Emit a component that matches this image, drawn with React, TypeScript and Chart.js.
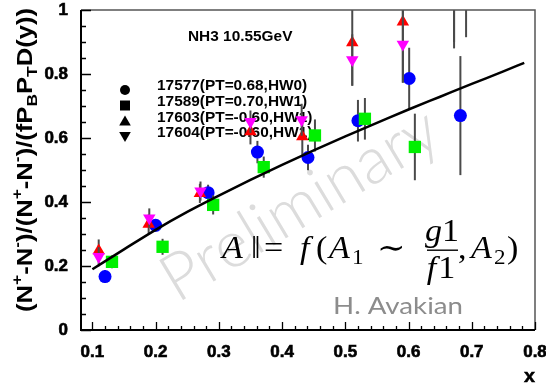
import React, { useEffect, useRef } from "react";
import { Chart, registerables } from "chart.js";

Chart.register(...registerables);

// Axis ranges and tick labels
const xRange = [0.082, 0.8];
const yRange = [0, 1];
const xTicks = [0.1, 0.2, 0.3, 0.4, 0.5, 0.6, 0.7, 0.8];
const xTickLabels = ["0.1", "0.2", "0.3", "0.4", "0.5", "0.6", "0.7", "0.8"];
const yTicks = [0, 0.2, 0.4, 0.6, 0.8, 1];
const yTickLabels = ["0", "0.2", "0.4", "0.6", "0.8", "1"];
const xMinorStep = 0.02;
const yMinorStep = 0.05;

// Run labels (legend order)
const runLabels = [
  "17577(PT=0.68,HW0)",
  "17589(PT=0.70,HW1)",
  "17603(PT=-0.60,HW1)",
  "17604(PT=-0.60,HW1)",
];

// Run 17577 (circles)
const run17577X = [0.12, 0.2, 0.283, 0.361, 0.441, 0.52, 0.601, 0.682];
const run17577Y = [0.167, 0.327, 0.429, 0.556, 0.539, 0.654, 0.786, 0.67];
const run17577Err = [0.02, 0.02, 0.025, 0.035, 0.04, 0.065, 0.096, 0.186];

// Run 17589 (squares)
const run17589X = [0.131, 0.211, 0.291, 0.371, 0.452, 0.531, 0.61, 0.691];
const run17589Y = [0.213, 0.26, 0.391, 0.509, 0.608, 0.66, 0.572, 1.15];
const run17589Err = [0.02, 0.025, 0.03, 0.033, 0.05, 0.065, 0.104, 0.235];

// Run 17603 (triangles up)
const run17603X = [0.11, 0.189, 0.27, 0.35, 0.432, 0.511, 0.591, 0.672];
const run17603Y = [0.248, 0.331, 0.427, 0.62, 0.604, 0.898, 0.963, 1.12];
const run17603Err = [0.035, 0.03, 0.03, 0.04, 0.06, 0.135, 0.19, 0.24];

// Run 17604 (triangles down)
const run17604X = [0.11, 0.19, 0.271, 0.35, 0.431, 0.511, 0.591, 0.672];
const run17604Y = [0.229, 0.35, 0.434, 0.651, 0.657, 0.844, 0.893, 1.08];
const run17604Err = [0.03, 0.03, 0.03, 0.035, 0.05, 0.08, 0.12, 0.18];

// Fitted curve
const fitX = [0.1, 0.15, 0.2, 0.25, 0.3, 0.35, 0.4, 0.45, 0.5, 0.55, 0.6, 0.65, 0.7, 0.75, 0.783];
const fitY = [0.19, 0.252, 0.313, 0.369, 0.42, 0.469, 0.516, 0.561, 0.605, 0.647, 0.689, 0.729, 0.769, 0.808, 0.835];

const SANS = "'Liberation Sans', Arial, Helvetica, sans-serif";
const SERIF = "'Liberation Serif', 'DejaVu Serif', serif";
const STRETCH = 1.1;

const zip = (xs: number[], ys: number[]) => xs.map((x, i) => ({ x, y: ys[i] }));

function stretchText(ctx: any, text: string, x: number, y: number, font: string, align = "left", sx = STRETCH, outline = 0) {
  ctx.save();
  ctx.font = font;
  ctx.textAlign = align;
  ctx.translate(x, y);
  ctx.scale(sx, 1);
  ctx.fillText(text, 0, 0);
  if (outline > 0) {
    ctx.strokeStyle = ctx.fillStyle;
    ctx.lineWidth = outline;
    ctx.strokeText(text, 0, 0);
  }
  ctx.restore();
}

function legendMarker(ctx: any, style: string, x: number, y: number) {
  ctx.beginPath();
  if (style === "circle") {
    ctx.arc(x, y, 5, 0, Math.PI * 2);
  } else if (style === "square") {
    ctx.rect(x - 5, y - 5, 10, 10);
  } else if (style === "up") {
    ctx.moveTo(x, y - 5.5);
    ctx.lineTo(x + 5.8, y + 4.5);
    ctx.lineTo(x - 5.8, y + 4.5);
    ctx.closePath();
  } else {
    ctx.moveTo(x, y + 5.5);
    ctx.lineTo(x + 5.8, y - 4.5);
    ctx.lineTo(x - 5.8, y - 4.5);
    ctx.closePath();
  }
  ctx.fill();
}

const legendStyles = ["circle", "square", "up", "down"];

// y-axis title with super/subscripts
const yTitleParts: [string, string][] = [
  ["(N", "n"], ["+", "sup"], ["-N", "n"], ["-", "sup"],
  [")/(N", "n"], ["+", "sup"], ["-N", "n"], ["-", "sup"],
  [")/(fP", "n"], ["B", "sub"], ["P", "n"], ["T", "sub"], ["D(y))", "n"],
];

function drawYTitle(ctx: any) {
  const size = 22;
  const small = 15;
  const fontN = `bold ${size}px ${SANS}`;
  const fontS = `bold ${small}px ${SANS}`;
  let total = 0;
  const widths = yTitleParts.map(([t, m]) => {
    ctx.font = m === "n" ? fontN : fontS;
    const w = ctx.measureText(t).width;
    total += w;
    return w;
  });
  const length = 304;
  const s = length / total;
  ctx.save();
  ctx.translate(32, 160);
  ctx.rotate(-Math.PI / 2);
  ctx.scale(s, 1);
  ctx.fillStyle = "#000";
  ctx.textAlign = "left";
  ctx.textBaseline = "alphabetic";
  let x = -total / 2;
  yTitleParts.forEach(([t, m], i) => {
    ctx.font = m === "n" ? fontN : fontS;
    const dy = m === "sup" ? -10 : m === "sub" ? 5 : 0;
    ctx.fillText(t, x, dy);
    x += widths[i];
  });
  ctx.restore();
}

function drawFormula(ctx: any) {
  const it = `italic 31px ${SERIF}`;
  const up = `31px ${SERIF}`;
  const sm = `21px ${SERIF}`;
  const base = 258;
  ctx.save();
  ctx.fillStyle = "#000";
  ctx.textBaseline = "alphabetic";
  stretchText(ctx, "A", 222, base, it);
  stretchText(ctx, "\u2016", 251, base, up);
  stretchText(ctx, "=", 264, base, up);
  stretchText(ctx, "f", 300, base, it);
  stretchText(ctx, "(", 316, base, up);
  stretchText(ctx, "A", 329, base, it);
  stretchText(ctx, "1", 352, base + 6, sm);
  stretchText(ctx, "\u223C", 377, base, up);
  // fraction g1 / f1
  const cx = 442;
  ctx.font = it;
  const wg = ctx.measureText("g").width * STRETCH;
  const wf = ctx.measureText("f").width * STRETCH;
  ctx.font = up;
  const w1 = ctx.measureText("1").width * STRETCH;
  stretchText(ctx, "g", cx - (wg + w1) / 2, base - 17, it);
  stretchText(ctx, "1", cx - (wg + w1) / 2 + wg, base - 17, up);
  stretchText(ctx, "f", cx - (wf + w1) / 2 - 2, base + 20, it);
  stretchText(ctx, "1", cx - (wf + w1) / 2 + wf, base + 20, up);
  ctx.fillRect(427, base - 8.5, 31, 1.4);
  stretchText(ctx, ",", 458, base, up);
  stretchText(ctx, "A", 471, base, it);
  stretchText(ctx, "2", 494, base + 6, sm);
  stretchText(ctx, ")", 507, base, up);
  ctx.restore();
}

const rootDecor = {
  id: "rootDecor",
  beforeDatasetsDraw(chart: any) {
    const { ctx } = chart;
    // watermark
    ctx.save();
    const wmText = "Preliminary";
    ctx.font = `300 60px Lato, 'Open Sans', sans-serif`;
    const wm = ctx.measureText(wmText).width;
    const fs = (60 * 312) / wm;
    ctx.font = `300 ${fs}px Lato, 'Open Sans', sans-serif`;
    ctx.fillStyle = "#dcdcdc";
    ctx.translate(300, 205);
    ctx.rotate((-31 * Math.PI) / 180);
    ctx.textAlign = "center";
    ctx.textBaseline = "middle";
    ctx.fillText(wmText, 0, 0);
    ctx.restore();

    // header and legend
    ctx.save();
    ctx.fillStyle = "#000";
    ctx.textBaseline = "middle";
    stretchText(ctx, "NH3 10.55GeV", 188, 37, `bold 14px ${SANS}`);
    const textY = [86, 102, 118, 133.5];
    const markY = [90, 105.5, 121, 136.5];
    runLabels.forEach((lab, i) => {
      legendMarker(ctx, legendStyles[i], 125, markY[i]);
      stretchText(ctx, lab, 157, textY[i], `bold 14px ${SANS}`);
    });
    ctx.restore();
  },
  beforeDatasetDraw(chart: any, args: any) {
    const ds = chart.data.datasets[args.index];
    if (!ds.errors) return;
    const { ctx, chartArea: a, scales } = chart;
    ctx.save();
    ctx.beginPath();
    ctx.rect(a.left, a.top, a.right - a.left, a.bottom - a.top);
    ctx.clip();
    ctx.strokeStyle = "#4a4a4a";
    ctx.lineWidth = 2;
    ds.data.forEach((p: any, i: number) => {
      const x = scales.x.getPixelForValue(p.x);
      const y1 = scales.y.getPixelForValue(p.y - ds.errors[i]);
      const y2 = scales.y.getPixelForValue(p.y + ds.errors[i]);
      ctx.beginPath();
      ctx.moveTo(x, y1);
      ctx.lineTo(x, y2);
      ctx.stroke();
    });
    ctx.restore();
  },
  afterDatasetsDraw(chart: any) {
    const { ctx, chartArea: a, scales } = chart;
    ctx.save();
    // frame: top and right
    ctx.strokeStyle = "#555";
    ctx.lineWidth = 1.5;
    ctx.beginPath();
    ctx.moveTo(a.left, a.top);
    ctx.lineTo(a.right, a.top);
    ctx.lineTo(a.right, a.bottom);
    ctx.stroke();
    // axes
    ctx.strokeStyle = "#000";
    ctx.lineWidth = 2;
    ctx.beginPath();
    ctx.moveTo(a.left, a.top);
    ctx.lineTo(a.left, a.bottom);
    ctx.lineTo(a.right, a.bottom);
    ctx.stroke();
    // ticks (inside)
    ctx.lineWidth = 1.3;
    ctx.beginPath();
    for (let v = 0.1; v <= xRange[1] + 1e-9; v += xMinorStep) {
      const px = Math.round(scales.x.getPixelForValue(v)) + 0.5;
      const major = Math.abs(v * 10 - Math.round(v * 10)) < 1e-6;
      ctx.moveTo(px, a.bottom);
      ctx.lineTo(px, a.bottom - (major ? 8 : 4));
    }
    for (let v = yRange[0]; v <= yRange[1] + 1e-9; v += yMinorStep) {
      const py = Math.round(scales.y.getPixelForValue(v)) + 0.5;
      const major = Math.abs(v * 5 - Math.round(v * 5)) < 1e-6;
      ctx.moveTo(a.left, py);
      ctx.lineTo(a.left + (major ? 10 : 5), py);
    }
    ctx.stroke();

    // tick labels
    ctx.fillStyle = "#000";
    ctx.textBaseline = "middle";
    const tickFont = `bold 16px ${SANS}`;
    xTicks.forEach((v, i) => {
      stretchText(ctx, xTickLabels[i], scales.x.getPixelForValue(v), 353, tickFont, "center", 1.06, 0.6);
    });
    yTicks.forEach((v, i) => {
      stretchText(ctx, yTickLabels[i], 68, scales.y.getPixelForValue(v) + 1, tickFont, "right", 1.06, 0.6);
    });
    ctx.restore();
  },
  afterDraw(chart: any) {
    const { ctx } = chart;
    ctx.save();
    ctx.fillStyle = "#000";
    drawYTitle(ctx);
    ctx.textBaseline = "middle";
    stretchText(ctx, "x", 535, 377, `bold 18px ${SANS}`, "right", STRETCH, 0.5);
    drawFormula(ctx);
    // author tag
    ctx.fillStyle = "#8c8c8c";
    ctx.textBaseline = "alphabetic";
    ctx.font = `24px Lato, 'Open Sans', sans-serif`;
    const w = ctx.measureText("H. Avakian").width;
    stretchText(ctx, "H. Avakian", 333, 314, ctx.font, "left", 130 / w);
    ctx.restore();
  },
};

export default function App() {
  const ref = useRef<HTMLCanvasElement | null>(null);

  useEffect(() => {
    const canvas = ref.current;
    if (!canvas) return;
    const pointSet = (label: string, xs: number[], ys: number[], errs: number[], color: string, style: string, radius: number, rotation: number, order: number) => ({
      label,
      data: zip(xs, ys),
      errors: errs,
      showLine: false,
      pointStyle: style,
      pointRadius: radius,
      pointHoverRadius: radius,
      pointRotation: rotation,
      backgroundColor: color,
      borderColor: color,
      pointBorderWidth: 0,
      order,
      clip: 0,
    });
    const chart = new Chart(canvas, {
      type: "scatter",
      data: {
        datasets: [
          pointSet(runLabels[0], run17577X, run17577Y, run17577Err, "#0000ff", "circle", 6.5, 0, 4),
          pointSet(runLabels[1], run17589X, run17589Y, run17589Err, "#00f000", "rect", 8.7, 0, 3),
          pointSet(runLabels[2], run17603X, run17603Y, run17603Err, "#ff0000", "triangle", 7.2, 0, 2),
          pointSet(runLabels[3], run17604X, run17604Y, run17604Err, "#ff00ff", "triangle", 7.2, 180, 1),
          {
            label: "fit",
            data: zip(fitX, fitY),
            showLine: true,
            pointRadius: 0,
            borderColor: "#000",
            borderWidth: 2.5,
            cubicInterpolationMode: "monotone",
            order: 0,
            clip: 0,
          } as any,
        ] as any,
      },
      options: {
        animation: false,
        responsive: false,
        devicePixelRatio: 1,
        layout: { padding: { top: 10, right: 11, left: 0, bottom: 0 } },
        plugins: { legend: { display: false }, tooltip: { enabled: false } },
        scales: {
          x: {
            type: "linear",
            min: xRange[0],
            max: xRange[1],
            afterBuildTicks: (s: any) => {
              s.ticks = xTicks.map((v) => ({ value: v }));
            },
            afterFit: (s: any) => {
              s.height = 55;
              s.paddingLeft = 0;
              s.paddingRight = 0;
            },
            grid: { display: false, drawTicks: false },
            border: { display: false },
            ticks: { display: false },
          },
          y: {
            type: "linear",
            min: yRange[0],
            max: yRange[1],
            afterBuildTicks: (s: any) => {
              s.ticks = yTicks.map((v) => ({ value: v }));
            },
            afterFit: (s: any) => {
              s.width = 81;
              s.paddingTop = 0;
              s.paddingBottom = 0;
            },
            grid: { display: false, drawTicks: false },
            border: { display: false },
            ticks: { display: false },
          },
        },
      } as any,
      plugins: [rootDecor as any],
    });
    return () => chart.destroy();
  }, []);

  return (
    <div style={{ position: "fixed", left: 0, top: 0, width: 546, height: 385, background: "#fff" }}>
      <canvas ref={ref} width={546} height={385} style={{ display: "block", width: 546, height: 385 }} />
    </div>
  );
}
